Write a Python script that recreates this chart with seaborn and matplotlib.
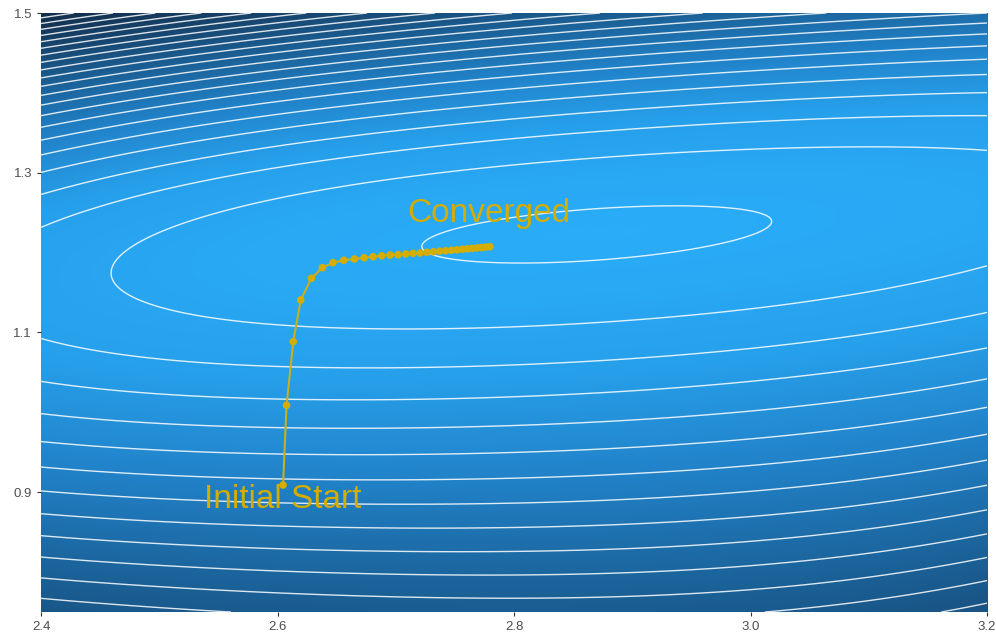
import numpy as np
import matplotlib
matplotlib.use("Agg")
import matplotlib.pyplot as plt
import seaborn as sns
from matplotlib.colors import LinearSegmentedColormap, PowerNorm

# ===============================
# 1. Gradient descent path
# ===============================
path_x = [2.6047, 2.6076, 2.6133, 2.6196, 2.6286, 2.6379, 2.6469, 2.6560, 2.6650, 2.6732,
          2.6808, 2.6881, 2.6951, 2.7019, 2.7084, 2.7146, 2.7205, 2.7262, 2.7318, 2.7371,
          2.7422, 2.7471, 2.7517, 2.7562, 2.7605, 2.7646, 2.7686, 2.7724, 2.7761, 2.7796]
path_y = [0.9090, 1.0088, 1.0885, 1.1407, 1.1678, 1.1811, 1.1874, 1.1904, 1.1920, 1.1936,
          1.1949, 1.1961, 1.1970, 1.1974, 1.1983, 1.1991, 1.1995, 1.2004, 1.2011, 1.2018,
          1.2024, 1.2030, 1.2035, 1.2042, 1.2048, 1.2053, 1.2059, 1.2064, 1.2069, 1.2074]

# ===============================
# 2. Contour traces of the loss surface (level index, x, y)
# ===============================
trace_k = []
trace_x = []
trace_y = []

def add(k, xs, ys):
    trace_k.extend([k] * len(xs))
    trace_x.extend(xs)
    trace_y.extend(ys)

add(0.86, [2.8778], [1.2208])
add(1, [2.7307, 2.7653, 2.8051, 2.8723, 2.9404, 2.9852, 3.0249, 2.9852, 2.9294, 2.8448, 2.8051, 2.7653],
       [1.2033, 1.2258, 1.2408, 1.2559, 1.2584, 1.2533, 1.2383, 1.2158, 1.1945, 1.1820, 1.1807, 1.1870])
add(2, [2.4727, 2.4750, 2.4837, 2.5116, 2.5683, 2.6249, 2.6808, 2.7374, 2.8051, 2.8723, 2.9573, 3.0418,
        3.1264, 3.1966, 2.4837, 2.5116, 2.5683, 2.6249, 2.6808, 2.8051, 2.9006, 3.0140, 3.1264, 3.1966],
       [1.1720, 1.1720, 1.1949, 1.2158, 1.2408, 1.2659, 1.2846, 1.2972, 1.3056, 1.3160, 1.3247, 1.3285,
        1.3326, 1.3306, 1.1448, 1.1281, 1.1072, 1.1031, 1.1002, 1.0990, 1.1072, 1.1240, 1.1532, 1.1761])
add(3, [2.4017, 2.8051, 3.1966, 2.4017, 2.4922, 2.6698, 2.9091, 3.1966],
       [1.2274, 1.3401, 1.3723, 1.0927, 1.0680, 1.0496, 1.0655, 1.1194])
add(4, [2.4017, 2.7882, 3.1966, 2.4017, 2.6698, 3.0698, 3.1966],
       [1.2709, 1.3619, 1.4002, 1.0371, 1.0113, 1.0655, 1.0772])
add(5, [2.4017, 2.7882, 3.1966, 2.4017, 2.6698, 3.1966],
       [1.3000, 1.3911, 1.4224, 0.9967, 0.9779, 1.0405])
add(6, [2.4017, 3.1966, 2.4017, 2.6698, 3.1966], [1.3222, 1.4412, 0.9613, 0.9445, 1.0051])
add(7, [2.4017, 3.1966, 2.4017, 2.6698, 3.1966], [1.3410, 1.4578, 0.9312, 0.9132, 0.9716])
add(8, [2.4017, 3.1966, 2.4017, 2.6698, 3.1966], [1.3576, 1.4733, 0.9015, 0.8861, 0.9403])
add(9, [2.4017, 3.1966, 2.4017, 2.6698, 3.1966], [1.3723, 1.4859, 0.8736, 0.8568, 0.9112])
add(10, [2.4017, 3.1805, 2.4017, 2.6698, 3.1966], [1.3848, 1.5, 0.8464, 0.8277, 0.8799])
add(11, [2.4017, 3.0554, 2.4017, 2.6698, 3.1966], [1.3995, 1.5, 0.8201, 0.8026, 0.8506])
add(12, [2.4017, 2.9564, 2.4017, 2.6698, 3.1966], [1.4120, 1.5, 0.7922, 0.7713, 0.8193])
add(13, [2.4017, 2.8693, 2.4017, 2.5345, 2.9877, 3.1966], [1.4224, 1.5, 0.7659, 0.75, 0.75, 0.7880])
add(14, [2.4017, 2.8004, 3.1789, 3.1966], [1.4328, 1.5, 0.75, 0.7567])
add(15, [2.4017, 2.7366], [1.4420, 1.5])
add(16, [2.4017, 2.6782], [1.4503, 1.5])
add(17, [2.4017, 2.6249], [1.4578, 1.5])
add(18, [2.4017, 2.5759], [1.4653, 1.5])
add(19, [2.4017, 2.5311], [1.4712, 1.5])
add(20, [2.4017, 2.4888], [1.4778, 1.5])
add(21, [2.4017, 2.4504], [1.4828, 1.5])
add(22, [2.4017, 2.4093], [1.4891, 1.5])
add(23, [2.4017], [1.4954])

# ===============================
# 3. Smooth surface through the traces
# ===============================
def features(x, y, deg=4):
    u = (np.asarray(x) - 2.8) / 0.4
    v = (np.asarray(y) - 1.125) / 0.375
    return np.stack([u**i * v**j for i in range(deg + 1) for j in range(deg + 1 - i)], axis=-1)

coef, *_ = np.linalg.lstsq(features(trace_x, trace_y), np.array(trace_k), rcond=None)

gx = np.linspace(2.4, 3.2, 400)
gy = np.linspace(0.75, 1.5, 300)
GX, GY = np.meshgrid(gx, gy)
Z = features(GX, GY) @ coef

# ===============================
# 4. Plot
# ===============================
sns.set_theme(style="ticks")
plt.rcParams["font.family"] = ["Liberation Sans", "DejaVu Sans"]

gold = "#D4AD00"
cmap = LinearSegmentedColormap.from_list(
    "loss", ["#2AACF8", "#27A0EB", "#2182C8", "#1B6299", "#17456E", "#122C48"])

fig = plt.figure(figsize=(9.96, 6.41), dpi=100)
ax = fig.add_axes([0.0412, 0.0452, 0.9498, 0.9345])

shade = np.clip(Z - Z.min(), 0, None)
ax.imshow(shade, extent=[2.4, 3.2, 0.75, 1.5], origin="lower", aspect="auto",
          cmap=cmap, interpolation="bilinear", norm=PowerNorm(0.72, vmin=0, vmax=shade.max()))
ax.contour(gx, gy, Z, levels=np.arange(1, 60), colors="white", linewidths=1.0, alpha=0.85)

sns.lineplot(x=path_x, y=path_y, sort=False, color="#C9AE1E", linewidth=1.5, ax=ax)
sns.scatterplot(x=path_x, y=path_y, color=gold, s=30, edgecolor="none", ax=ax, zorder=5)

ax.text(2.6047, 0.891, "Initial Start", ha="center", va="center", fontsize=24, color=gold)
ax.text(2.7789, 1.2495, "Converged", ha="center", va="center", fontsize=24, color=gold)

ax.set_xlim(2.4, 3.2)
ax.set_ylim(0.75, 1.5)
ax.set_xticks([2.4, 2.6, 2.8, 3.0, 3.2])
ax.set_yticks([0.9, 1.1, 1.3, 1.5])
ax.tick_params(colors="#333333", labelcolor="#4D4D4D", labelsize=9.5, length=3, width=0.8)
for s in ax.spines.values():
    s.set_visible(False)
ax.set_xlabel("")
ax.set_ylabel("")

fig.savefig("out.png", dpi=100)
